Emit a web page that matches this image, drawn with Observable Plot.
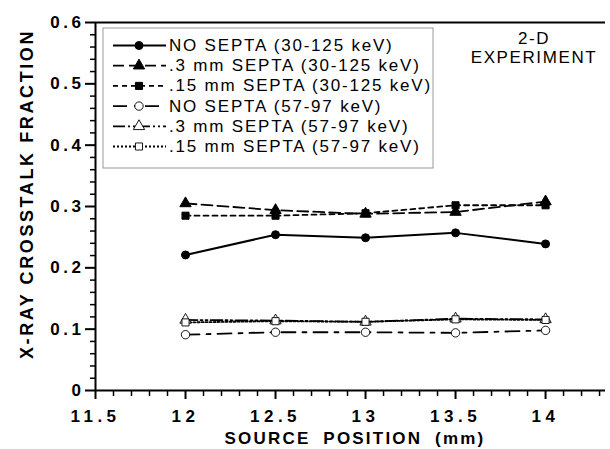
<!DOCTYPE html>
<html>
<head>
<meta charset="utf-8">
<script src="https://cdn.jsdelivr.net/npm/d3@7"></script>
<script src="https://cdn.jsdelivr.net/npm/@observablehq/plot@0.6"></script>
<style>
  html, body { margin: 0; padding: 0; background: white; }
  #chart { position: relative; width: 610px; height: 449px; }
  #chart svg { display: block; }
  [aria-label="y-axis tick label"] text { letter-spacing: 3.5px; }
  [aria-label="x-axis tick label"] text { letter-spacing: 4.5px; }
</style>
</head>
<body>
<div id="chart"></div>
<script>
// ---- data ----
const positions = [12, 12.5, 13, 13.5, 14];
const noSepta_30_125 = [0.221, 0.254, 0.249, 0.257, 0.239];
const septa03_30_125 = [0.305, 0.294, 0.288, 0.291, 0.308];
const septa015_30_125 = [0.285, 0.285, 0.289, 0.302, 0.302];
const noSepta_57_97 = [0.091, 0.095, 0.095, 0.094, 0.098];
const septa03_57_97 = [0.115, 0.114, 0.112, 0.117, 0.116];
const septa015_57_97 = [0.111, 0.113, 0.112, 0.116, 0.115];

const seriesNames = [
  "NO SEPTA (30-125 keV)",
  ".3 mm SEPTA (30-125 keV)",
  ".15 mm SEPTA (30-125 keV)",
  "NO SEPTA (57-97 keV)",
  ".3 mm SEPTA (57-97 keV)",
  ".15 mm SEPTA (57-97 keV)"
];
const seriesValues = [noSepta_30_125, septa03_30_125, septa015_30_125, noSepta_57_97, septa03_57_97, septa015_57_97];

const xTicks = [11.5, 12, 12.5, 13, 13.5, 14];
const yTicks = [0, 0.1, 0.2, 0.3, 0.4, 0.5, 0.6];
const xTickLabels = ["11.5", "12", "12.5", "13", "13.5", "14"];
const yTickLabels = ["0", "0.1", "0.2", "0.3", "0.4", "0.5", "0.6"];
const xTitle = "SOURCE POSITION (mm)";
const yTitle = "X-RAY CROSSTALK FRACTION";
const noteLines = ["2-D", "EXPERIMENT"];

// ---- styles ----
const styles = [
  {dash: null, symbol: "circle", fill: "black", r: 4, width: 2},
  {dash: "11,5", symbol: "triangle", fill: "black", r: 4.2, width: 1.8},
  {dash: "5,4", symbol: "square", fill: "black", r: 4, width: 1.8},
  {dash: "14,7,4,7", symbol: "circle", fill: "white", r: 4.2, width: 1.8},
  {dash: "12,3,2,3,2,3", symbol: "triangle", fill: "white", r: 4.2, width: 1.8},
  {dash: "2,2", symbol: "square", fill: "white", r: 4, width: 1.8}
];

const seriesRows = seriesValues.map(vals => positions.map((p, i) => ({pos: p, val: vals[i]})));

const xMinor = d3.range(115, 144).map(v => v / 10).filter(v => !xTicks.some(t => Math.abs(t - v) < 1e-9));
const yMinor = d3.range(0, 31).map(v => v / 50).filter(v => !yTicks.some(t => Math.abs(t - v) < 1e-9));

const marks = [
  Plot.ruleY([0.6], {stroke: "black", strokeWidth: 2}),
  Plot.ruleY([0], {stroke: "black", strokeWidth: 2}),
  Plot.ruleX([11.5], {stroke: "black", strokeWidth: 2}),
  Plot.axisX(xMinor, {tickSize: 6, tickFormat: () => "", label: null, strokeWidth: 1.5}),
  Plot.axisX(xTicks, {tickSize: 9, tickPadding: 10, tickFormat: d => xTickLabels[xTicks.indexOf(d)], label: null, strokeWidth: 2}),
  Plot.axisY(yMinor, {tickSize: 5, tickFormat: () => "", label: null, strokeWidth: 1.5}),
  Plot.axisY(yTicks, {tickSize: 10, tickPadding: 1, tickFormat: d => yTickLabels[yTicks.indexOf(d)], label: null, strokeWidth: 2})
];
seriesRows.forEach((rows, k) => {
  const s = styles[k];
  marks.push(Plot.line(rows, {x: "pos", y: "val", stroke: "black", strokeWidth: s.width, strokeDasharray: s.dash || undefined}));
});
seriesRows.forEach((rows, k) => {
  const s = styles[k];
  marks.push(Plot.dot(rows, {x: "pos", y: "val", symbol: s.symbol, r: s.r, fill: s.fill, stroke: "black", strokeWidth: s.fill === "white" ? 0.9 : 1}));
});

const chart = Plot.plot({
  width: 610,
  height: 449,
  marginLeft: 95,
  marginRight: 5,
  marginTop: 22,
  marginBottom: 59,
  x: {domain: [11.5, 14.333], axis: null, label: null},
  y: {domain: [0, 0.6], axis: null, label: null},
  style: {fontFamily: "'Liberation Sans', Arial, sans-serif", fontSize: "17px", fontWeight: "bold", background: "white", color: "black", overflow: "visible"},
  marks
});
document.getElementById("chart").appendChild(chart);

// ---- titles, note & legend ----
const svg = d3.select(chart);
svg.append("text")
  .attr("transform", "translate(27,194) rotate(-90)")
  .attr("text-anchor", "middle").attr("dominant-baseline", "central")
  .style("font-weight", "bold").style("font-size", "18px").style("letter-spacing", "2.6px")
  .text(yTitle);
svg.append("text")
  .attr("x", 355).attr("y", 438)
  .attr("text-anchor", "middle").attr("dominant-baseline", "central")
  .style("font-weight", "bold").style("font-size", "17px").style("letter-spacing", "2.2px").style("word-spacing", "6px")
  .text(xTitle);
noteLines.forEach((t, i) => {
  svg.append("text")
    .attr("x", 534).attr("y", 38 + i * 19)
    .attr("text-anchor", "middle").attr("dominant-baseline", "central")
    .style("font-weight", "normal").style("font-size", "17px").style("letter-spacing", "1.6px")
    .text(t);
});

const lg = svg.append("g");
lg.append("rect").attr("x", 103).attr("y", 28).attr("width", 330).attr("height", 140)
  .attr("fill", "white").attr("stroke", "#999").attr("stroke-width", 1);
seriesNames.forEach((name, k) => {
  const s = styles[k];
  const y = 45.5 + k * 20.2;
  lg.append("line").attr("x1", 113).attr("x2", 166).attr("y1", y).attr("y2", y)
    .attr("stroke", "black").attr("stroke-width", s.width)
    .attr("stroke-dasharray", s.dash);
  const sym = {circle: d3.symbolCircle, triangle: d3.symbolTriangle, square: d3.symbolSquare}[s.symbol];
  lg.append("path").attr("transform", `translate(139,${y})`)
    .attr("d", d3.symbol(sym, s.r * s.r * Math.PI)())
    .attr("fill", s.fill).attr("stroke", "black").attr("stroke-width", s.fill === "white" ? 0.9 : 1);
  lg.append("text").attr("x", 169).attr("y", y).attr("dominant-baseline", "central")
    .attr("text-anchor", "start")
    .style("font-weight", "normal").style("font-size", "17px").style("letter-spacing", "1.8px")
    .text(name);
});
</script>
</body>
</html>
